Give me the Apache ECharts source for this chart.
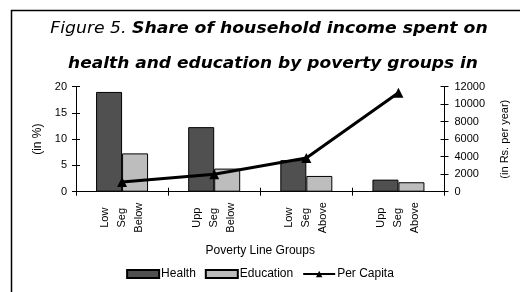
<!DOCTYPE html>
<html>
<head>
<meta charset="utf-8">
<script src="https://cdn.jsdelivr.net/npm/echarts@6/dist/echarts.min.js"></script>
<style>
html,body{margin:0;padding:0;background:#fff;}
#main{width:520px;height:292px;}
</style>
</head>
<body>
<div id="main"></div>
<script>
var categories = ['Low\nSeg\nBelow', 'Upp\nSeg\nBelow', 'Low\nSeg\nAbove', 'Upp\nSeg\nAbove'];
var healthValues = [19.0, 12.3, 6.0, 2.3];
var educationValues = [7.3, 4.4, 3.0, 1.8];
var perCapitaValues = [1100, 2000, 3850, 11300];
var leftTicks = [0, 5, 10, 15, 20];
var rightTicks = [0, 2000, 4000, 6000, 8000, 10000, 12000];

var chart = echarts.init(document.getElementById('main'));
var sans = 'Liberation Sans, Arial, sans-serif';
var leftMax = leftTicks[leftTicks.length - 1];
var leftStep = leftTicks[1] - leftTicks[0];
var rightMax = rightTicks[rightTicks.length - 1];
var rightStep = rightTicks[1] - rightTicks[0];

var option = {
  animation: false,
  backgroundColor: '#fff',
  graphic: [
    {type: 'text', z: 0, x: 269, y: 29.5, scaleX: 1.15, style: {
      x: 0, y: 0, textAlign: 'center', textVerticalAlign: 'middle',
      text: '{a|Figure 5. }{b|Share of household income spent on}',
      rich: {
        a: {fontFamily: 'DejaVu Sans', fontStyle: 'italic', fontSize: 15, fill: '#000'},
        b: {fontFamily: 'DejaVu Sans', fontStyle: 'italic', fontWeight: 'bold', fontSize: 15, fill: '#000'}
      }
    }},
    {type: 'text', z: 0, x: 273, y: 64.5, scaleX: 1.135, style: {
      x: 0, y: 0, textAlign: 'center', textVerticalAlign: 'middle',
      text: 'health and education by poverty groups in',
      fontFamily: 'DejaVu Sans', fontStyle: 'italic', fontWeight: 'bold', fontSize: 15, fill: '#000'
    }},
    {type: 'rect', z: 1, shape: {x: 13, y: 73.5, width: 507, height: 5}, style: {fill: '#fff'}},
    {type: 'rect', z: 1, shape: {x: 11.5, y: 10.5, width: 600, height: 400}, style: {fill: null, stroke: '#000', lineWidth: 1.5}}
  ],
  grid: {left: 76, right: 75.5, top: 86.7, bottom: 100.3, containLabel: false},
  legend: {
    bottom: 7, left: 'center',
    itemWidth: 32, itemHeight: 8, itemGap: 9,
    textStyle: {fontFamily: sans, fontSize: 12, color: '#000', padding: [0, 0, 0, -3]},
    data: [{name: 'Health', icon: 'rect'}, {name: 'Education', icon: 'rect'}, {name: 'Per Capita'}]
  },
  xAxis: [
    {
      type: 'category', data: categories, position: 'bottom',
      name: 'Poverty Line Groups', nameLocation: 'middle', nameGap: 53,
      nameTextStyle: {fontFamily: sans, fontSize: 12, color: '#000'},
      axisLine: {lineStyle: {color: '#000', width: 1}},
      axisTick: {show: true, inside: false, length: 4, alignWithLabel: false, lineStyle: {color: '#000'}},
      axisLabel: {rotate: 90, align: 'center', verticalAlign: 'middle', margin: 26, lineHeight: 17,
        fontFamily: sans, fontSize: 11, color: '#000', interval: 0},
      splitLine: {show: false}
    },
    {
      type: 'category', data: categories, position: 'bottom',
      axisLine: {show: false},
      axisTick: {show: true, inside: true, length: 4, alignWithLabel: false, lineStyle: {color: '#000'}},
      axisLabel: {show: false}, splitLine: {show: false}
    }
  ],
  yAxis: [
    {
      type: 'value', position: 'left', min: 0, max: leftMax, interval: leftStep,
      name: '(in %)', nameLocation: 'middle', nameGap: 31, nameRotate: 90,
      nameTextStyle: {fontFamily: sans, fontSize: 12, color: '#000'},
      axisLine: {show: true, lineStyle: {color: '#000', width: 1}},
      axisTick: {show: true, length: 4, lineStyle: {color: '#000'}},
      axisLabel: {fontFamily: sans, fontSize: 11, color: '#000', margin: 9},
      splitLine: {show: false}
    },
    {
      type: 'value', position: 'right', min: 0, max: rightMax, interval: rightStep,
      name: '(in Rs. per year)', nameLocation: 'middle', nameGap: 55, nameRotate: 90,
      nameTextStyle: {fontFamily: sans, fontSize: 11, color: '#000'},
      axisLine: {show: true, lineStyle: {color: '#000', width: 1}},
      axisTick: {show: true, length: 4, lineStyle: {color: '#000'}},
      axisLabel: {fontFamily: sans, fontSize: 11, color: '#000', margin: 10,
        formatter: function (v) { return String(v); }},
      splitLine: {show: false}
    },
    {
      type: 'value', position: 'left', min: 0, max: leftMax, interval: leftStep,
      axisLine: {show: false}, axisTick: {show: true, inside: true, length: 4, lineStyle: {color: '#000'}},
      axisLabel: {show: false}, splitLine: {show: false}
    },
    {
      type: 'value', position: 'right', min: 0, max: rightMax, interval: rightStep,
      axisLine: {show: false}, axisTick: {show: true, inside: true, length: 4, lineStyle: {color: '#000'}},
      axisLabel: {show: false}, splitLine: {show: false}
    }
  ],
  series: [
    {
      name: 'Health', type: 'bar', data: healthValues, xAxisIndex: 0, yAxisIndex: 0,
      barWidth: 26, barGap: '0%',
      itemStyle: {color: '#505050', borderColor: '#000', borderWidth: 1}
    },
    {
      name: 'Education', type: 'bar', data: educationValues, xAxisIndex: 0, yAxisIndex: 0,
      barWidth: 26, barGap: '0%',
      itemStyle: {color: '#bdbdbd', borderColor: '#000', borderWidth: 1}
    },
    {
      name: 'Per Capita', type: 'line', data: perCapitaValues, xAxisIndex: 0, yAxisIndex: 1,
      symbol: 'triangle', symbolSize: 10, z: 5,
      lineStyle: {color: '#000', width: 3},
      itemStyle: {color: '#000'}
    }
  ]
};
chart.setOption(option);
</script>
</body>
</html>
